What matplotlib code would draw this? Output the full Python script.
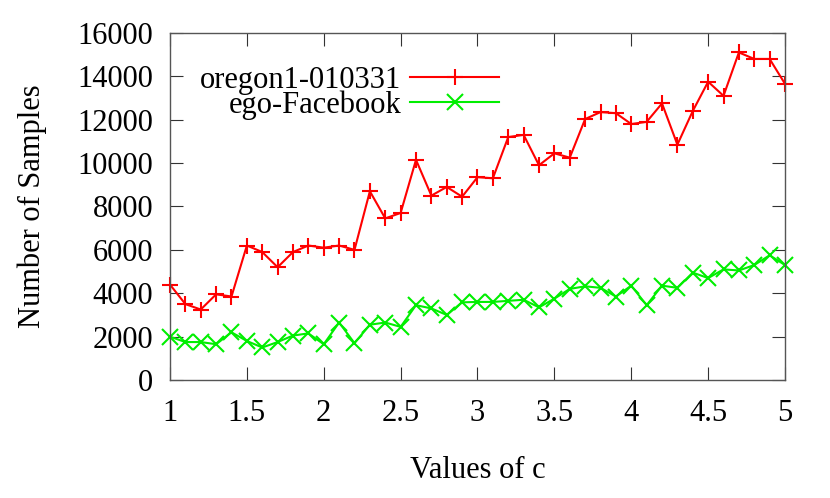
import numpy as np
import matplotlib.pyplot as plt

plt.rcParams['font.family'] = ['Liberation Serif', 'DejaVu Serif']

c_values = [1.0, 1.1, 1.2, 1.3, 1.4, 1.5, 1.6, 1.7, 1.8, 1.9,
            2.0, 2.1, 2.2, 2.3, 2.4, 2.5, 2.6, 2.7, 2.8, 2.9,
            3.0, 3.1, 3.2, 3.3, 3.4, 3.5, 3.6, 3.7, 3.8, 3.9,
            4.0, 4.1, 4.2, 4.3, 4.4, 4.5, 4.6, 4.7, 4.8, 4.9, 5.0]

oregon = [4400, 3500, 3250, 3950, 3850, 6200, 5900, 5200, 5900, 6200,
          6100, 6200, 6000, 8700, 7450, 7700, 10150, 8500, 8900, 8450,
          9350, 9300, 11200, 11300, 9900, 10450, 10250, 12030, 12350, 12300,
          11800, 11900, 12750, 10850, 12400, 13750, 13100, 15100, 14800, 14800, 13650]

facebook = [2000, 1750, 1750, 1650, 2200, 1800, 1500, 1750, 2050, 2150,
            1650, 2650, 1700, 2550, 2650, 2450, 3450, 3300, 3000, 3580,
            3600, 3600, 3650, 3700, 3350, 3750, 4200, 4320, 4250, 3850,
            4350, 3450, 4350, 4250, 4950, 4700, 5100, 5050, 5300, 5750, 5300]

fig = plt.figure(figsize=(8.3, 4.98), dpi=100)
ax = fig.add_axes([0.2048, 0.2369, 0.741, 0.697])

ax.plot(c_values, oregon, color='#ff0000', lw=1.5, marker='+', ms=11, mew=1.5,
        label='oregon1-010331', clip_on=False)
ax.plot(c_values, facebook, color='#00ee00', lw=1.5, marker='x', ms=11, mew=1.5,
        label='ego-Facebook', clip_on=False)

ax.set_xlim(1, 5)
ax.set_ylim(0, 16000)
ax.set_xticks([1, 1.5, 2, 2.5, 3, 3.5, 4, 4.5, 5])
ax.set_xticklabels(['1', '1.5', '2', '2.5', '3', '3.5', '4', '4.5', '5'])
ax.set_yticks(np.arange(0, 16001, 2000))
ax.tick_params(direction='in', length=9.5, width=0.8, top=True, right=True,
               labelsize=22, colors='#333333', labelcolor='black')
ax.tick_params(axis='x', pad=14)
ax.tick_params(axis='y', pad=12)
for s in ax.spines.values():
    s.set_color('#555555')
    s.set_linewidth(1.0)

ax.set_xlabel('Values of c', fontsize=22, labelpad=20)
ax.set_ylabel('Number of Samples', fontsize=22, labelpad=22)

leg = ax.legend(loc='upper left', bbox_to_anchor=(0.014, 0.967), frameon=False,
                markerfirst=False, fontsize=22, handlelength=2.9,
                handletextpad=0.3, labelspacing=-0.15, borderpad=0.2)
for t in leg.get_texts():
    t.set_ha('right')
leg._legend_box.align = 'right'

fig.savefig('out.png', dpi=100)
